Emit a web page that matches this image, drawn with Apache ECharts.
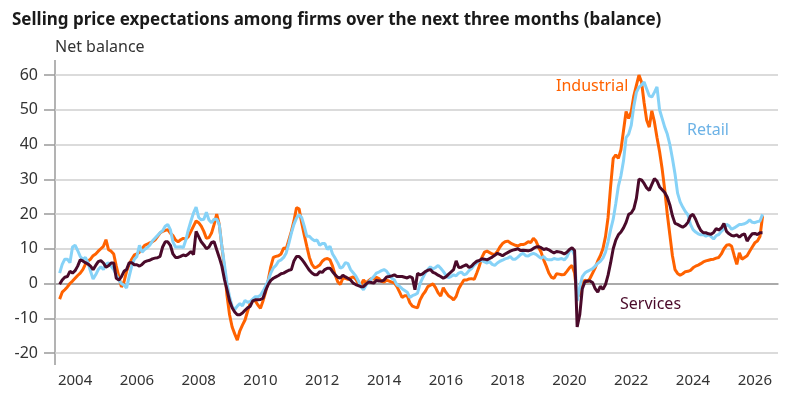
<!DOCTYPE html>
<html>
<head>
<meta charset="utf-8">
<script src="https://cdn.jsdelivr.net/npm/echarts@6/dist/echarts.min.js"></script>
<style>
  html, body { margin: 0; padding: 0; background: #fff; }
  #main { width: 800px; height: 412px; }
</style>
</head>
<body>
<div id="main"></div>
<script>
// monthly values, Jul 2003 .. Apr 2026
const startYear = 2003
const startMonth = 7

const industrial = [
  -4.5, -2.5, -1.8, -1, 0, 0.7,
  1.5, 2.3, 3, 4, 5.5, 6.5, 7, 8, 8.5, 9.3, 10, 10.7,
  12.6, 9.7, 9.3, 8.5, 5, 2, -1, 0.5, 3.5, 5.5, 7, 8.2,
  8.5, 9, 10, 11, 11.3, 11.7, 12, 12.5, 13.5, 14.5, 15, 15.3,
  15.5, 14.5, 13.8, 12.5, 12, 12.6, 13, 12.8, 13.5, 15, 16.5, 18,
  17.5, 16.5, 15, 13, 13.2, 14.5, 17, 20, 17, 10.7, 4.5, -3.5,
  -9, -12.5, -14.5, -16.3, -13.6, -12, -10.5, -8, -5.7, -4.9, -5, -6.2,
  -7.1, -5, -2.5, 1, 4.8, 7.5, 7.8, 8, 8.5, 10.2, 10, 12.5,
  15, 18, 21.8, 21.5, 17.5, 14, 10.7, 7.5, 5.5, 4.5, 4.8, 5.3,
  6.4, 7, 7.2, 6.8, 5, 2.5, 0.5, -0.3, 1.5, 1.5, 1.2, 1.6,
  1.9, 1.3, 0, -0.5, 1, 0.2, 0.8, 1.4, 1.3, 1.8, 1.4, 0.6,
  0.4, 1, 0.7, 0.4, 0.2, -0.9, -2.4, -4, -3.5, -3.5, -5.5, -6.5,
  -6.8, -7, -4.7, -3.3, -2.3, -0.9, -0.5, -0.1, -1.2, -2.7, -3.6, -1.2,
  -2.5, -3.5, -4, -4.7, -3.7, -1.5, -0.2, 1, 1, 1.3, 1.4, 1.2,
  3, 5, 7.5, 9, 9.3, 8.9, 8.5, 8.3, 9.2, 10.5, 11.5, 12,
  12.2, 11.7, 11.3, 11, 10.8, 11.2, 11.2, 11.5, 12, 11.8, 13, 12.2,
  10.5, 9, 6.8, 5, 3, 1.8, 1.5, 2.8, 2.7, 2.5, 2.6, 3.5,
  4.5, 5.2, 3, -4, -3, 0, 1, 0.5, 1.5, 3, 4.5, 6.5,
  8, 10, 13.5, 19, 28, 36, 37, 36, 38.5, 44, 49.5, 47.5,
  49.5, 54, 57, 60, 58, 52, 47, 45, 49.7, 46.5, 42, 38,
  33, 27, 20, 14, 8, 4, 2.9, 2.4, 2.8, 3.4, 3.5, 3.8,
  4.5, 5, 5.3, 5.7, 6.2, 6.5, 6.7, 6.9, 7, 7.3, 7.5, 8.5,
  10, 11, 11.2, 10.7, 8, 5.5, 8.8, 7, 7.5, 8, 9.3, 10.5,
  11.7, 12.2, 13.5, 19.4
]

const retail = [
  3, 5.5, 7, 7, 6, 10.5,
  11, 9.5, 7.8, 7, 7.5, 6, 3.5, 1.3, 2.5, 4, 4.8, 4,
  5.6, 5.9, 5, 4, 2.5, 1, 0, -0.5, -1.3, 2, 5, 7,
  7.8, 11, 9, 9.8, 10.3, 11, 12.2, 13, 13.8, 14.6, 15.2, 16.5,
  17, 15.5, 12, 10.5, 10.5, 10.6, 10.3, 12.5, 15.5, 18, 20.3, 22,
  19, 18.3, 18.5, 20.5, 18.3, 17.5, 18.5, 18.5, 17, 10.7, 5.5, 0,
  -3.8, -6.6, -7.5, -6.5, -5.8, -6.4, -4.9, -5.4, -5.2, -4.5, -3.8, -3.8,
  -3.4, -2.2, -0.8, 0.8, 3, 4.5, 5.2, 6.4, 6.8, 7.5, 8.8, 11.5,
  14.5, 17, 18.8, 19.8, 19, 16.5, 13.6, 13.6, 12.8, 12.3, 12.5, 11,
  11.5, 11.5, 9.8, 10.7, 8.5, 7.3, 6, 4.4, 4.8, 6, 5.7, 4,
  3.1, 2.2, 0.8, -0.9, -1.8, -0.5, 0.5, 1.2, 2, 3, 3.3, 3.7,
  4, 3.5, 2.5, 1.5, 1, -0.4, -0.8, -1.5, -2, -2.5, -4, -3.5,
  -3.2, -2.8, 0, 1.6, 3, 4, 4.8, 4.2, 4.6, 5.2, 4.4, 3.5,
  2.4, 1.7, 2, 2.5, 2.2, 3, 3.3, 2.5, 2.8, 3.7, 4.3, 5.3,
  5.9, 6.5, 6.6, 6.2, 5.9, 6.3, 5.5, 5.2, 5.9, 6.4, 6.7, 7.1,
  7.3, 7.8, 7, 7, 7.6, 8.3, 8.7, 8, 7.9, 8.4, 8.7, 8.4,
  7.8, 7.3, 7.8, 7, 6.8, 6.8, 7.2, 7, 7, 7.2, 6.8, 7.6,
  9.3, 10, 8, -5, -1, 2, 3, 3.5, 3.9, 4.3, 5, 5.8,
  6.4, 7.3, 9, 12, 15.5, 18.5, 23, 28, 31, 35.3, 42, 43,
  45.5, 51, 55, 56.5, 57.1, 58, 56, 54, 53.7, 55, 56.6, 50,
  47.5, 45, 43, 40, 36, 31.5, 26, 23.5, 22, 20.7, 19.8, 17,
  15.5, 14.8, 14.3, 14, 14.1, 13.6, 14, 13.5, 12.8, 13.8, 14.1, 15,
  15.7, 17, 16.6, 15.6, 16, 16.5, 17, 17, 17.2, 17.6, 18.3, 17.6,
  17.5, 17.8, 18, 19.9
]

const services = [
  -0.2, 1, 1.8, 2, 3.5, 3,
  3.7, 5, 6.8, 6.5, 6, 5.6, 5, 4, 5.2, 6.3, 6.6, 5.9,
  4.7, 5.1, 5.9, 5.9, 1.5, 1, 2, 3.5, 4, 6, 6, 5.4,
  5.4, 5, 5.5, 6.2, 6.5, 6.7, 7.1, 7.3, 7.4, 7.8, 10.5, 12,
  12, 11, 8.5, 7.5, 7.5, 7.8, 8.2, 8, 8.5, 9.2, 8.3, 15,
  13.5, 12, 11.1, 10, 10.5, 11.8, 12, 9.7, 7.5, 5, 1.2, -1.8,
  -5, -7, -8.2, -9, -9, -8.5, -7.7, -7, -6.6, -5, -4.7, -4.7,
  -4.6, -4.2, -2, -0.3, 0.9, 1.5, 1.9, 2.3, 2.8, 3, 3.4, 3.8,
  4, 6.5, 7.8, 7.8, 7, 6, 4.9, 3.8, 3, 2.5, 2.5, 3.4,
  3.2, 4, 4.4, 4.4, 3.4, 2.5, 1.8, 1.6, 2.4, 1.9, 1.5, 1,
  0.1, -0.3, -0.6, -0.9, -0.9, -0.2, 0.4, 0.3, 0.1, 0.9, 0.7, 0.7,
  1, 1.9, 2, 2.2, 2.5, 2, 2, 2, 1.8, 1.6, 2, 1.6,
  -1.8, 2.9, 2.5, 2.8, 3.4, 3.8, 4, 3.2, 2.9, 2.4, 2, 1.5,
  1.9, 2.6, 3.3, 4, 6.5, 4.6, 4.7, 5.1, 5.4, 4.6, 5, 5.8,
  6.4, 6.6, 7.1, 7, 6.8, 7.2, 7.6, 8.1, 8.7, 8.4, 8, 8.5,
  8.9, 9.3, 9.6, 9.8, 10, 9.5, 9.6, 9.5, 9.4, 9.6, 10.1, 10.5,
  10.6, 10.3, 9.8, 10, 9.7, 9.2, 8.8, 9.2, 9.1, 8.9, 8.5, 9,
  9.8, 10.3, 9.5, -12.5, -9, -1.5, 0.5, 0.7, 0.7, 0.3, -1.5, -2.5,
  -0.8, -1.7, -0.3, 2.4, 6, 10, 12.5, 14, 14.8, 16, 17.6, 19.9,
  20.3, 21.5, 24.5, 30, 29.8, 28.8, 27.5, 26.8, 28.5, 30.2, 29.5, 27.8,
  27, 26.2, 24.8, 22.6, 19.5, 17.3, 17, 16.6, 16.2, 16.7, 17.6, 19.4,
  19.9, 18.5, 16.7, 15.3, 14.6, 14.6, 14.3, 14.2, 14.7, 15.8, 15.4, 16,
  17.3, 15, 14.3, 13.8, 13.7, 14, 13.3, 14, 14.3, 12.2, 13.4, 14.3,
  14.4, 14.1, 14.6, 14.6
]

const yearTicks = [2004, 2006, 2008, 2010, 2012, 2014, 2016, 2018, 2020, 2022, 2024, 2026]

// month index -> decimal year
function toPairs(arr) {
  return arr.map((v, i) => [startYear + (startMonth - 1 + i) / 12, v])
}

const font = 'Noto Sans'
const myChart = echarts.init(document.getElementById('main'))

myChart.setOption({
  animation: false,
  textStyle: { fontFamily: font },
  grid: { left: 55, right: 22, top: 75, bottom: 59 },
  xAxis: {
    type: 'value',
    min: 2003.35,
    max: 2026.75,
    offset: 11,
    axisLine: { show: true, lineStyle: { color: '#9a9a9a', width: 1.5 } },
    axisTick: { show: false },
    splitLine: { show: false },
    axisLabel: {
      customValues: yearTicks,
      formatter: v => String(v),
      fontSize: 15,
      color: '#333',
      margin: 9,
      fontFamily: font
    }
  },
  yAxis: {
    type: 'value',
    min: -20,
    max: 60,
    interval: 10,
    axisLine: { show: false },
    axisTick: { show: true, length: 11, lineStyle: { color: '#9a9a9a', width: 1.5 } },
    splitLine: { show: true, lineStyle: { color: '#cfcfcf', width: 1.5 } },
    axisLabel: { fontSize: 16, color: '#333', margin: 17, fontFamily: font }
  },
  graphic: [
    { type: 'line', shape: { x1: 55, y1: 60, x2: 55, y2: 365 }, style: { stroke: '#9a9a9a', lineWidth: 1.5 } },
    // y labels placed by hand would break scales, so only the axis line is drawn here
    { type: 'text', left: 12, top: 12, style: { text: 'Selling price expectations among firms over the next three months (balance)', font: 'bold 17px "Noto Sans"', fill: '#1a1a1a' } },
    { type: 'text', left: 55, top: 39, style: { text: 'Net balance', font: '16px "Noto Sans"', fill: '#333' } },
    { type: 'text', left: 556, top: 78, style: { text: 'Industrial', font: '16px "Noto Sans"', fill: '#FF6200' } },
    { type: 'text', left: 687, top: 122, style: { text: 'Retail', font: '16px "Noto Sans"', fill: '#6cb2e6' } },
    { type: 'text', left: 620, top: 296, style: { text: 'Services', font: '16px "Noto Sans"', fill: '#4a0a2a' } }
  ],
  series: [
    {
      name: 'Industrial', type: 'line', showSymbol: false,
      lineStyle: { color: '#FF6200', width: 3 }, itemStyle: { color: '#FF6200' },
      data: toPairs(industrial)
    },
    {
      name: 'Retail', type: 'line', showSymbol: false,
      lineStyle: { color: '#86d2f7', width: 3 }, itemStyle: { color: '#86d2f7' },
      data: toPairs(retail)
    },
    {
      name: 'Services', type: 'line', showSymbol: false,
      lineStyle: { color: '#4a0a2a', width: 3 }, itemStyle: { color: '#4a0a2a' },
      data: toPairs(services)
    }
  ]
})
</script>
</body>
</html>
